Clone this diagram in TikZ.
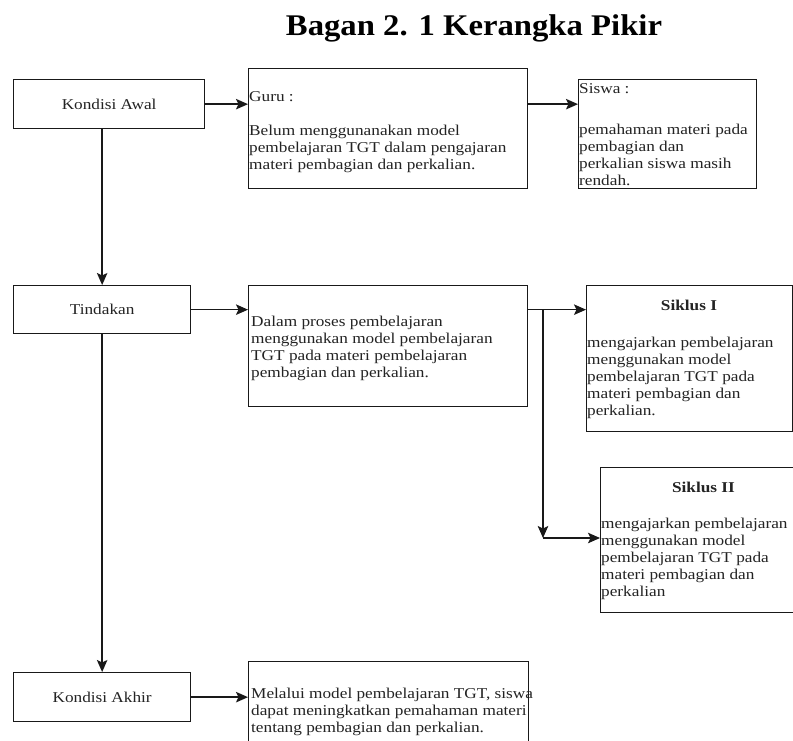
\documentclass[tikz,border=0pt]{standalone}
\usepackage{fontspec}
\setmainfont{Liberation Serif}
\newfontfamily\diagfont[FakeStretch=1.15]{Liberation Serif}
\newfontfamily\titlefont[FakeStretch=1.09]{Liberation Serif}
\usetikzlibrary{arrows.meta}
\definecolor{ink}{RGB}{25,25,25}
\definecolor{txt}{RGB}{35,35,35}
\newcommand\firstln{\rule{0pt}{11pt}}
\begin{document}
\begin{tikzpicture}[x=1pt,y=1pt,
  box/.style={draw=ink, line width=1.3pt, rectangle, inner sep=0pt, anchor=north west,
    font=\diagfont\fontsize{15}{17}\selectfont, text=txt},
  lbl/.style={font=\diagfont\fontsize{15}{17}\selectfont, text=txt, inner sep=0pt},
  head/.style={font=\diagfont\bfseries\fontsize{15}{17}\selectfont, text=txt, inner sep=0pt, anchor=base},
  body/.style={lbl, align=left, anchor=north west},
  conn/.style={draw=ink, line width=1.4pt, -{Stealth[length=12pt,width=10.5pt,inset=2.5pt]}},
]
\useasboundingbox (0,0) rectangle (793,-740);
\fill[white] (0,0) rectangle (793,-740);
\clip (0,0) rectangle (793,-740);

% title
\node[font=\titlefont\bfseries\fontsize{30}{36}\selectfont, anchor=base, inner sep=0pt] (title) at (474,-35) {Bagan 2. 1 Kerangka Pikir};

% boxes
\node[box, minimum width=191pt, minimum height=49pt] (ka) at (13,-79) {Kondisi Awal};
\node[box, minimum width=279pt, minimum height=120pt] (guru) at (248,-68) {};
\node[box, minimum width=178pt, minimum height=109pt] (siswa) at (578,-79) {};
\node[box, minimum width=177pt, minimum height=48pt] (tind) at (13,-285) {Tindakan};
\node[box, minimum width=279pt, minimum height=121pt] (dalam) at (248,-285) {};
\node[box, minimum width=206pt, minimum height=146pt] (s1) at (586,-285) {};
\node[box, minimum width=207pt, minimum height=145pt] (s2) at (600,-467) {};
\node[box, minimum width=177pt, minimum height=49pt] (kakhir) at (13,-672) {Kondisi Akhir};
\node[box, minimum width=280pt, minimum height=110pt] (melalui) at (248,-661) {};

% texts
\node[lbl, anchor=base west] (guruh) at (249,-101) {Guru :};
\node[body] (gurub) at (249,-124) {\fontsize{15}{16}\selectfont\firstln Belum menggunanakan model\\pembelajaran TGT dalam pengajaran\\materi pembagian dan perkalian.};
\node[lbl, anchor=base west] (siswah) at (579,-93) {Siswa :};
\node[body] (siswab) at (579,-123) {\fontsize{15}{15.5}\selectfont\firstln pemahaman materi pada\\pembagian dan\\perkalian siswa masih\\rendah.};
\node[body] (dalamb) at (251,-315) {\fontsize{15}{16.5}\selectfont\firstln Dalam proses pembelajaran\\menggunakan model pembelajaran\\TGT pada materi pembelajaran\\pembagian dan perkalian.};
\node[head] (s1h) at (689,-310) {Siklus I};
\node[body] (s1b) at (587,-336) {\fontsize{15}{16.5}\selectfont\firstln mengajarkan pembelajaran\\menggunakan model\\pembelajaran TGT pada\\materi pembagian dan\\perkalian.};
\node[head] (s2h) at (703.5,-492) {Siklus II};
\node[body] (s2b) at (601,-517) {\fontsize{15}{16.5}\selectfont\firstln mengajarkan pembelajaran\\menggunakan model\\pembelajaran TGT pada\\materi pembagian dan\\perkalian};
\node[body] (melalub) at (251,-687) {\fontsize{15}{15}\selectfont\firstln Melalui model pembelajaran TGT, siswa\\dapat meningkatkan pemahaman materi\\tentang pembagian dan perkalian.};

% connectors
\draw[conn] (ka.east) -- (guru.west |- ka.east);
\draw[conn] (guru.east |- ka.east) -- (siswa.west |- ka.east);
\draw[conn] (tind.north |- ka.south) -- (tind.north);
\draw[conn] (tind.south) -- (kakhir.north);
\draw[conn] (tind.east) -- (dalam.west |- tind.east);
\draw[conn] (dalam.east |- tind.east) -- (s1.west |- tind.east);
\coordinate (br) at (543,-309);
\coordinate (corner) at (543,-538);
\draw[conn] (br) -- (corner);
\draw[conn] (corner) -- (s2.west |- corner);
\draw[conn] (kakhir.east) -- (melalui.west |- kakhir.east);
\end{tikzpicture}
\end{document}
